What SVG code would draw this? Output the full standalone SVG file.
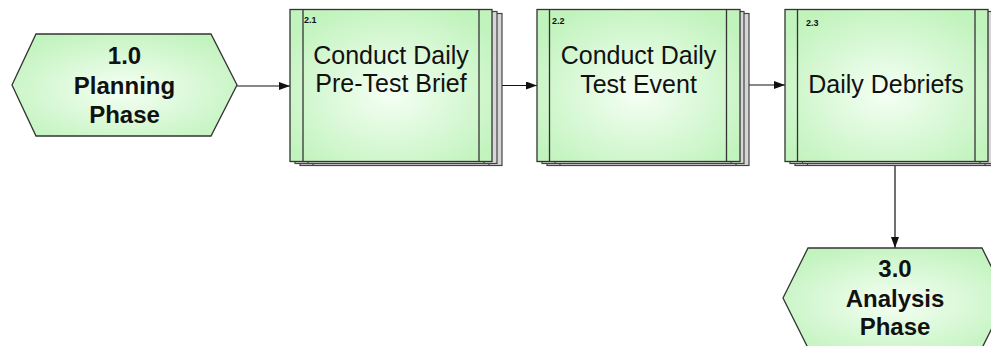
<svg xmlns="http://www.w3.org/2000/svg" width="991" height="346" viewBox="0 0 991 346">
  <defs>
    <radialGradient id="g" cx="0.5" cy="0.55" r="0.62">
      <stop offset="0" stop-color="#f5fff4"/>
      <stop offset="1" stop-color="#c1f3bd"/>
    </radialGradient>
    <marker id="arr" markerWidth="11" markerHeight="8" refX="11" refY="4" orient="auto" markerUnits="userSpaceOnUse">
      <path d="M0,0 L11,4 L0,8 Z" fill="#111"/>
    </marker>
  </defs>
  <style>
    .shape { fill: url(#g); stroke: #333; stroke-width: 1.3; }
    .back { fill: #d6d6d6; stroke: #444; stroke-width: 1.2; }
    .line { stroke: #333; stroke-width: 1.3; fill: none; }
    .bline { stroke: #444; stroke-width: 1.2; fill: none; }
    .phase { font-family: "Liberation Sans", Arial, sans-serif; font-weight: bold; font-size: 24px; fill: #111; text-anchor: middle; }
    .label { font-family: "Liberation Sans", Arial, sans-serif; font-size: 25px; fill: #111; text-anchor: middle; }
    .num { font-family: "Liberation Sans", Arial, sans-serif; font-weight: bold; font-size: 9px; fill: #111; }
    .conn { stroke: #111; stroke-width: 1.2; fill: none; marker-end: url(#arr); }
  </style>

  <g id="connectors">
    <line class="conn" x1="237" y1="86" x2="290" y2="86"/>
    <line class="conn" x1="492" y1="85.5" x2="537" y2="85.5"/>
    <line class="conn" x1="740" y1="85" x2="785" y2="85"/>
    <line class="conn" x1="895" y1="166" x2="895" y2="248"/>
  </g>

  <g id="node-1-0">
    <polygon class="shape" points="12,85 36,34 211,34 237,85 211,136 36,136"/>
    <text class="phase" x="124.5" y="63.5">1.0</text>
    <text class="phase" x="124.5" y="94">Planning</text>
    <text class="phase" x="124.5" y="122.5">Phase</text>
  </g>

  <g id="node-2-1">
    <rect class="back" x="300" y="13.5" width="202" height="152"/>
    <line class="bline" x1="313" y1="13.5" x2="313" y2="165.5"/>
    <line class="bline" x1="489" y1="13.5" x2="489" y2="165.5"/>
    <rect class="back" x="295" y="11.5" width="202" height="152"/>
    <line class="bline" x1="308" y1="11.5" x2="308" y2="163.5"/>
    <line class="bline" x1="484" y1="11.5" x2="484" y2="163.5"/>
    <rect class="shape" x="290" y="9.5" width="202" height="152"/>
    <line class="line" x1="303" y1="9.5" x2="303" y2="161.5"/>
    <line class="line" x1="479" y1="9.5" x2="479" y2="161.5"/>
    <text class="num" x="304" y="23">2.1</text>
    <text class="label" x="391" y="63.5">Conduct Daily</text>
    <text class="label" x="391" y="92">Pre-Test Brief</text>
  </g>

  <g id="node-2-2">
    <rect class="back" x="547" y="13.5" width="202" height="152"/>
    <line class="bline" x1="560" y1="13.5" x2="560" y2="165.5"/>
    <line class="bline" x1="736" y1="13.5" x2="736" y2="165.5"/>
    <rect class="back" x="542" y="11.5" width="202" height="152"/>
    <line class="bline" x1="555" y1="11.5" x2="555" y2="163.5"/>
    <line class="bline" x1="731" y1="11.5" x2="731" y2="163.5"/>
    <rect class="shape" x="537" y="9.5" width="203" height="152"/>
    <line class="line" x1="549.5" y1="9.5" x2="549.5" y2="161.5"/>
    <line class="line" x1="726.5" y1="9.5" x2="726.5" y2="161.5"/>
    <text class="num" x="552" y="24">2.2</text>
    <text class="label" x="638.5" y="63.5">Conduct Daily</text>
    <text class="label" x="638.5" y="92.5">Test Event</text>
  </g>

  <g id="node-2-3">
    <rect class="back" x="795" y="13.5" width="203" height="152"/>
    <line class="bline" x1="807.5" y1="13.5" x2="807.5" y2="165.5"/>
    <line class="bline" x1="985" y1="13.5" x2="985" y2="165.5"/>
    <rect class="back" x="790" y="11.5" width="203" height="152"/>
    <line class="bline" x1="802.5" y1="11.5" x2="802.5" y2="163.5"/>
    <line class="bline" x1="980" y1="11.5" x2="980" y2="163.5"/>
    <rect class="shape" x="785" y="9.5" width="203" height="152"/>
    <line class="line" x1="797.5" y1="9.5" x2="797.5" y2="161.5"/>
    <line class="line" x1="975" y1="9.5" x2="975" y2="161.5"/>
    <text class="num" x="806" y="26">2.3</text>
    <text class="label" x="886" y="93">Daily Debriefs</text>
  </g>

  <g id="node-3-0">
    <polygon class="shape" points="783,298 808,248 982,248 1007,298 982,348 808,348"/>
    <text class="phase" x="895" y="277">3.0</text>
    <text class="phase" x="895" y="306.5">Analysis</text>
    <text class="phase" x="895" y="335">Phase</text>
  </g>
</svg>
